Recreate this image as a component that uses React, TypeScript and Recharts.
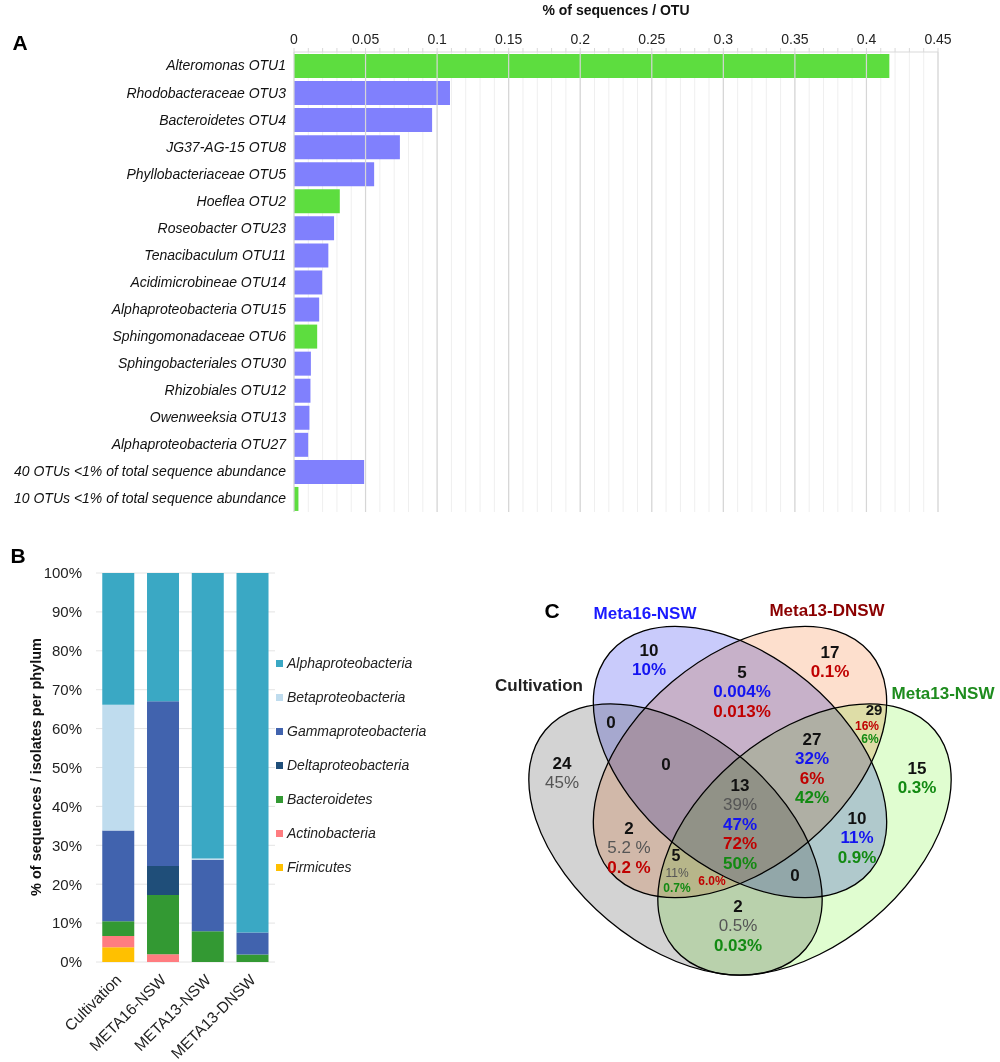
import React from "react";
import {
  BarChart,
  Bar,
  XAxis,
  YAxis,
  CartesianGrid,
  ReferenceLine,
  Cell,
} from "recharts";

const FONT = '"Liberation Sans", Arial, Helvetica, sans-serif';

// ---------- panel A: share of sequences per OTU ----------
const otuNames = [
  "Alteromonas OTU1",
  "Rhodobacteraceae OTU3",
  "Bacteroidetes OTU4",
  "JG37-AG-15 OTU8",
  "Phyllobacteriaceae OTU5",
  "Hoeflea OTU2",
  "Roseobacter OTU23",
  "Tenacibaculum OTU11",
  "Acidimicrobineae OTU14",
  "Alphaproteobacteria OTU15",
  "Sphingomonadaceae OTU6",
  "Sphingobacteriales OTU30",
  "Rhizobiales OTU12",
  "Owenweeksia OTU13",
  "Alphaproteobacteria OTU27",
  "40 OTUs <1% of total sequence abundance",
  "10  OTUs <1% of total sequence abundance",
];
const otuShare = [
  0.416, 0.109, 0.0965, 0.074, 0.056, 0.032, 0.028, 0.024, 0.0197, 0.0176,
  0.0162, 0.0118, 0.0115, 0.0108, 0.0099, 0.049, 0.0031,
];
// OTUs that were also recovered by cultivation (green bars)
const otuCultivated = [
  true, false, false, false, false, true, false, false, false, false,
  true, false, false, false, false, false, true,
];
const shareTicks = [0, 0.05, 0.1, 0.15, 0.2, 0.25, 0.3, 0.35, 0.4, 0.45];
const shareMinorTicks = Array.from({ length: 46 }, (_, i) => i / 100);

// ---------- panel B: phylum composition ----------
const samples = ["Cultivation", "META16-NSW", "META13-NSW", "META13-DNSW"];
const firmicutes = [3.8, 0, 0, 0];
const actinobacteria = [2.9, 2.0, 0, 0];
const bacteroidetes = [3.8, 15.2, 7.9, 1.9];
const deltaproteobacteria = [0, 7.5, 0, 0];
const gammaproteobacteria = [23.3, 42.3, 18.4, 5.7];
const betaproteobacteria = [32.3, 0, 0.3, 0];
const alphaproteobacteria = [33.9, 33.0, 73.4, 92.4];
const percentTicks = [0, 10, 20, 30, 40, 50, 60, 70, 80, 90, 100];

// stacking order, bottom to top
const phyla = [
  { key: "firm", name: "Firmicutes", values: firmicutes },
  { key: "actino", name: "Actinobacteria", values: actinobacteria },
  { key: "bact", name: "Bacteroidetes", values: bacteroidetes },
  { key: "delta", name: "Deltaproteobacteria", values: deltaproteobacteria },
  { key: "gamma", name: "Gammaproteobacteria", values: gammaproteobacteria },
  { key: "beta", name: "Betaproteobacteria", values: betaproteobacteria },
  { key: "alpha", name: "Alphaproteobacteria", values: alphaproteobacteria },
];
const phylumColor: Record<string, string> = {
  firm: "#ffc000",
  actino: "#ff7c80",
  bact: "#339933",
  delta: "#1f4e79",
  gamma: "#4163ae",
  beta: "#bfdcee",
  alpha: "#3aa8c4",
};

// ---------- panel C: Venn diagram ----------
const vennSets = ["Cultivation", "Meta16-NSW", "Meta13-DNSW", "Meta13-NSW"];
const setColor = ["#222222", "#1a1aff", "#8b0000", "#1e8c1e"];
const setFill = ["#d3d3d3", "#c9cbfb", "#fddfcd", "#e0fdd0"];
const shareColor: Record<string, string> = {
  C: "#555555",
  M16: "#1414f0",
  DN: "#c00000",
  N: "#128a12",
};

// OTU counts per region and share of each dataset in that region
const regionCounts = [10, 17, 5, 0, 29, 24, 0, 27, 15, 13, 2, 10, 5, 0, 2];
const regionShares: [string, string][][] = [
  [["10%", "M16"]],
  [["0.1%", "DN"]],
  [["0.004%", "M16"], ["0.013%", "DN"]],
  [],
  [["16%", "DN"], ["6%", "N"]],
  [["45%", "C"]],
  [],
  [["32%", "M16"], ["6%", "DN"], ["42%", "N"]],
  [["0.3%", "N"]],
  [["39%", "C"], ["47%", "M16"], ["72%", "DN"], ["50%", "N"]],
  [["5.2 %", "C"], ["0.2 %", "DN"]],
  [["11%", "M16"], ["0.9%", "N"]],
  [["11%", "C"], ["6.0%", "DN"], ["0.7%", "N"]],
  [],
  [["0.5%", "C"], ["0.03%", "N"]],
];

// layout of the diagram (page pixels)
const ellipseLayout = [
  { cx: 675.5, cy: 839.5, angle: 40 },
  { cx: 740, cy: 762, angle: 40 },
  { cx: 740, cy: 762, angle: -40 },
  { cx: 804.5, cy: 839.5, angle: -40 },
];
const titleLayout = [
  [539, 685],
  [645, 613],
  [827, 610],
  [943, 693],
];
const regionLayout: { x: number; y: number; size?: number; small?: number[][] }[] = [
  { x: 649, y: 650 },
  { x: 830, y: 652 },
  { x: 742, y: 672 },
  { x: 611, y: 722 },
  { x: 874, y: 709, size: 15, small: [[867, 726], [870, 739]] },
  { x: 562, y: 763 },
  { x: 666, y: 764 },
  { x: 812, y: 739 },
  { x: 917, y: 768 },
  { x: 740, y: 785 },
  { x: 629, y: 828 },
  { x: 857, y: 818 },
  { x: 676, y: 855, size: 16, small: [[677, 873], [712, 881], [677, 888]] },
  { x: 795, y: 875 },
  { x: 738, y: 906 },
];

const otuData = otuNames.map((name, i) => ({
  name,
  share: otuShare[i],
  cultivated: otuCultivated[i],
}));

const phylumData = samples.map((sample, i) => {
  const row: Record<string, any> = { sample };
  phyla.forEach((p) => (row[p.key] = p.values[i]));
  return row;
});

const shareLabel = (v: number) =>
  shareTicks.some((t) => Math.abs(t - v) < 1e-9) ? String(v) : "";

const SampleTick = (props: any) => {
  const { x, y, payload } = props;
  return (
    <g transform={`translate(${x},${y + 7}) rotate(-45)`}>
      <text
        textAnchor="end"
        dominantBaseline="central"
        fontSize={15.5}
        fill="#222"
        fontFamily={FONT}
      >
        {payload.value}
      </text>
    </g>
  );
};

const PhylumLegend = () => (
  <div style={{ fontFamily: FONT }}>
    {[...phyla].reverse().map((p) => (
      <div
        key={p.key}
        style={{ height: 34, display: "flex", alignItems: "center" }}
      >
        <span
          style={{
            width: 7,
            height: 7,
            background: phylumColor[p.key],
            marginRight: 4,
          }}
        />
        <span style={{ fontStyle: "italic", fontSize: 14, color: "#222" }}>
          {p.name}
        </span>
      </div>
    ))}
  </div>
);

const Venn = () => (
  <g fontFamily={FONT}>
    {ellipseLayout.map((e, i) => (
      <ellipse
        key={"f" + i}
        cx={e.cx}
        cy={e.cy}
        rx={170}
        ry={105}
        transform={`rotate(${e.angle} ${e.cx} ${e.cy})`}
        fill={setFill[i]}
        style={{ mixBlendMode: "multiply" }}
      />
    ))}
    {ellipseLayout.map((e, i) => (
      <ellipse
        key={"s" + i}
        cx={e.cx}
        cy={e.cy}
        rx={170}
        ry={105}
        transform={`rotate(${e.angle} ${e.cx} ${e.cy})`}
        fill="none"
        stroke="#000"
        strokeWidth={1.3}
      />
    ))}
    {vennSets.map((s, i) => (
      <text
        key={s}
        x={titleLayout[i][0]}
        y={titleLayout[i][1]}
        textAnchor="middle"
        dominantBaseline="central"
        fontWeight="bold"
        fontSize={17}
        fill={setColor[i]}
      >
        {s}
      </text>
    ))}
    {regionCounts.map((n, i) => {
      const pos = regionLayout[i];
      return (
        <g key={"r" + i}>
          <text
            x={pos.x}
            y={pos.y}
            textAnchor="middle"
            dominantBaseline="central"
            fontWeight="bold"
            fontSize={pos.size || 17}
            fill="#111"
          >
            {n}
          </text>
          {regionShares[i].map(([txt, set], j) => {
            const small = pos.small;
            return (
              <text
                key={j}
                x={small ? small[j][0] : pos.x}
                y={small ? small[j][1] : pos.y + (j + 1) * 19.5}
                textAnchor="middle"
                dominantBaseline="central"
                fontWeight={set === "C" ? "normal" : "bold"}
                fontSize={small ? 12 : 17}
                fill={shareColor[set]}
              >
                {txt}
              </text>
            );
          })}
        </g>
      );
    })}
  </g>
);

export default function App() {
  return (
    <div
      style={{
        position: "relative",
        width: 1000,
        height: 1062,
        background: "#fff",
        fontFamily: FONT,
      }}
    >
      <style>{`body{margin:0}`}</style>

      {/* A */}
      <div style={{ position: "absolute", left: 0, top: 0 }}>
        <BarChart
          width={960}
          height={518}
          data={otuData}
          layout="vertical"
          margin={{ top: 22, right: 22, left: 0, bottom: 6 }}
          barSize={24}
        >
          <CartesianGrid horizontal={false} stroke="#efefef" />
          {shareTicks.map((t) => (
            <ReferenceLine key={t} x={t} stroke="#d6d6d6" strokeWidth={1.2} />
          ))}
          <XAxis
            type="number"
            orientation="top"
            domain={[0, 0.45]}
            ticks={shareMinorTicks}
            interval={0}
            tickFormatter={shareLabel}
            height={30}
            tickSize={4}
            tickMargin={4}
            axisLine={{ stroke: "#d9d9d9" }}
            tickLine={{ stroke: "#d9d9d9" }}
            tick={{ fontSize: 14, fill: "#222", fontFamily: FONT }}
          />
          <YAxis
            type="category"
            dataKey="name"
            width={294}
            interval={0}
            tickLine={false}
            axisLine={false}
            tick={{
              fontSize: 14,
              fontStyle: "italic",
              fill: "#111",
              fontFamily: FONT,
            }}
          />
          <Bar dataKey="share" isAnimationActive={false}>
            {otuData.map((d, i) => (
              <Cell key={i} fill={d.cultivated ? "#5ddd3f" : "#8080fd"} />
            ))}
          </Bar>
        </BarChart>
      </div>

      {/* B */}
      <div style={{ position: "absolute", left: 0, top: 540 }}>
        <BarChart
          width={480}
          height={522}
          data={phylumData}
          margin={{ top: 33, right: 205, left: 46, bottom: 0 }}
          barCategoryGap="14%"
        >
          <CartesianGrid vertical={false} stroke="#e4e4e4" />
          <XAxis
            dataKey="sample"
            height={100}
            interval={0}
            tickLine={false}
            axisLine={false}
            tick={<SampleTick />}
          />
          <YAxis
            domain={[0, 100]}
            ticks={percentTicks}
            width={50}
            tickLine={false}
            axisLine={false}
            tickMargin={8}
            tickFormatter={(v: number) => `${v}%`}
            tick={{ fontSize: 15, fill: "#222", fontFamily: FONT }}
          />
          {phyla.map((p) => (
            <Bar
              key={p.key}
              dataKey={p.key}
              name={p.name}
              stackId="a"
              fill={phylumColor[p.key]}
              isAnimationActive={false}
            />
          ))}
        </BarChart>
      </div>
      <div style={{ position: "absolute", left: 276, top: 646 }}>
        <PhylumLegend />
      </div>

      {/* annotations + C */}
      <svg
        width={1000}
        height={1062}
        style={{ position: "absolute", left: 0, top: 0, pointerEvents: "none" }}
      >
        <g fontFamily={FONT} fill="#000">
          <text x={20} y={42} fontSize={21} fontWeight="bold" textAnchor="middle" dominantBaseline="central">
            A
          </text>
          <text x={18} y={555} fontSize={21} fontWeight="bold" textAnchor="middle" dominantBaseline="central">
            B
          </text>
          <text x={552} y={610} fontSize={21} fontWeight="bold" textAnchor="middle" dominantBaseline="central">
            C
          </text>
          <text x={616} y={10} fontSize={14} fontWeight="bold" textAnchor="middle" dominantBaseline="central" fill="#111">
            % of sequences / OTU
          </text>
          <text
            x={36}
            y={767}
            transform="rotate(-90 36 767)"
            fontSize={14.5}
            fontWeight="bold"
            textAnchor="middle"
            dominantBaseline="central"
            fill="#111"
          >
            % of sequences / isolates per phylum
          </text>
        </g>
        <Venn />
      </svg>
    </div>
  );
}
